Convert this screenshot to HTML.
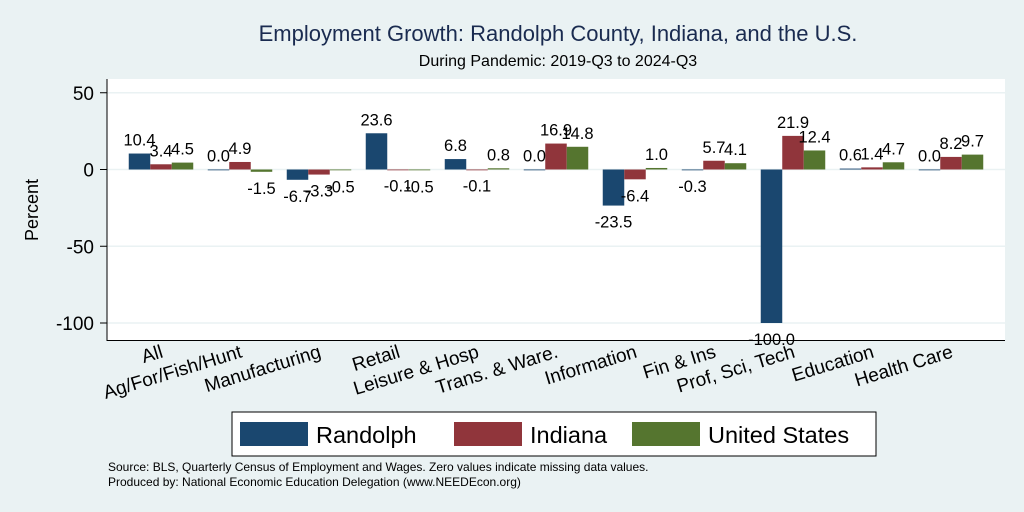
<!DOCTYPE html>
<html><head><meta charset="utf-8"><style>
body{margin:0;background:#eaf2f3;font-family:"Liberation Sans",sans-serif}
svg{display:block}
</style></head><body>
<svg id="chart" width="1024" height="512">
<rect x="0" y="0" width="1024" height="512" fill="#eaf2f3"/>
<text x="558" y="41" text-anchor="middle" font-size="22" fill="#1a2b50">Employment Growth: Randolph County, Indiana, and the U.S.</text>
<text x="558" y="66" text-anchor="middle" font-size="16" fill="#000">During Pandemic: 2019-Q3 to 2024-Q3</text>
<rect x="107" y="79" width="898" height="262" fill="#fff"/>
<g id="grid"></g><g id="bars"></g><g id="labels"></g><g id="xlabels"></g>
<line x1="107" y1="79" x2="107" y2="341" stroke="#000" stroke-width="1"/>
<line x1="107" y1="340.5" x2="1005" y2="340.5" stroke="#000" stroke-width="1"/>
<text transform="translate(38,210) rotate(-90)" text-anchor="middle" font-size="18">Percent</text>
<g>
<rect x="232" y="412" width="644" height="44" fill="#fff" stroke="#000" stroke-width="1"/>
<rect x="240" y="422" width="68" height="24" fill="#1a476f"/>
<text x="316" y="443" font-size="23.5">Randolph</text>
<rect x="454" y="422" width="68" height="24" fill="#90353b"/>
<text x="530" y="443" font-size="23.5">Indiana</text>
<rect x="632" y="422" width="68" height="24" fill="#55752f"/>
<text x="708" y="443" font-size="23.5">United States</text>
</g>
<text x="108" y="471" font-size="12">Source: BLS, Quarterly Census of Employment and Wages. Zero values indicate missing data values.</text>
<text x="108" y="486" font-size="12">Produced by: National Economic Education Delegation (www.NEEDEcon.org)</text>
</svg>
<script>
const categories=["All","Ag/For/Fish/Hunt","Manufacturing","Retail","Leisure & Hosp","Trans. & Ware.","Information","Fin & Ins","Prof, Sci, Tech","Education","Health Care"];
const randolph=[10.4,0.0,-6.7,23.6,6.8,0.0,-23.5,-0.3,-100.0,0.6,0.0];
const indiana=[3.4,4.9,-3.3,-0.1,-0.1,16.9,-6.4,5.7,21.9,1.4,8.2];
const us=[4.5,-1.5,-0.5,-0.5,0.8,14.8,1.0,4.1,12.4,4.7,9.7];
const yTicks=[50,0,-50,-100];
const NS="http://www.w3.org/2000/svg";
function y(v){return 169.5-v*1.535;}
function xc(i){return 161+i*79;}
const bw=21.5;
function mk(t,a,p){const e=document.createElementNS(NS,t);for(const k in a)e.setAttribute(k,a[k]);p.appendChild(e);return e;}
const grid=document.getElementById('grid');
yTicks.forEach(t=>{
  const l=mk('line',{x1:107,x2:1005,y1:y(t),y2:y(t),stroke:'#eaf2f3','stroke-width':1.5},grid);
  
  
  const tk=mk('line',{x1:100,x2:107,y1:y(t),y2:y(t),stroke:'#000'},grid);
  
  
  const tx=mk('text',{x:94,y:y(t)+7,'text-anchor':'end','font-size':19},grid);
  tx.textContent=t;
  
  
});
const series=[[randolph,'#1a476f','randolph',-1],[indiana,'#90353b','indiana',0],[us,'#55752f','us',1]];
const bars=document.getElementById('bars'),labels=document.getElementById('labels'),xl=document.getElementById('xlabels');
series.forEach(([vals,col,nm,off])=>{
  vals.forEach((v,i)=>{
    const cx=xc(i)+off*bw;
    const top=Math.min(y(v),y(0)),h=Math.abs(y(v)-y(0));
    const r=mk('rect',{x:cx-bw/2,y:top,width:bw,height:Math.max(h,0.8),fill:col},bars);
    
    
    const ly=v>=0?y(v)-8:y(v)+22;
    const t=mk('text',{x:cx,y:ly,'text-anchor':'middle','font-size':16.5},labels);
    t.textContent=v.toFixed(1);
    
    
  });
});
categories.forEach((c,i)=>{
  const x=xc(i)+3;
  const t=mk('text',{transform:`translate(${x},${357}) rotate(-17)`,'text-anchor':'end','font-size':19},xl);
  t.textContent=c;
  
  
});
</script>
</body></html>
